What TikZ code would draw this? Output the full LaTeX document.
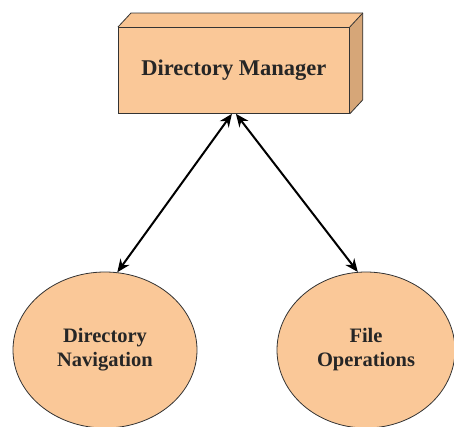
\documentclass[tikz,border=0pt]{standalone}
\usepackage{fontspec}
\setmainfont{Liberation Serif}
\usetikzlibrary{shapes.geometric,arrows.meta,calc}
\definecolor{peach}{RGB}{250,200,152}
\definecolor{peachtop}{RGB}{248,196,146}
\definecolor{peachside}{RGB}{214,166,120}
\tikzset{
  lbl/.style={font=\fontsize{22.5}{25}\selectfont\bfseries, align=center, text=black!85},
  blob/.style={ellipse, draw=black!80, line width=0.8pt, fill=peach, lbl,
    font=\fontsize{20.5}{24}\selectfont\bfseries,
    minimum width=184pt, minimum height=156pt, inner sep=0pt},
  face/.style={draw=black!80, line width=0.8pt, line join=round},
  link/.style={line width=2pt, {Stealth[length=13pt,width=11pt]}-{Stealth[length=13pt,width=11pt]}}
}
\begin{document}
\begin{tikzpicture}[x=1pt,y=-1pt]
  \useasboundingbox (0,0) rectangle (454,426);
  % cuboid: front face as a node, top and side faces from its corners
  \node[face, fill=peach, lbl, minimum width=231pt, minimum height=86pt, inner sep=0pt,
        anchor=north west] (dm) at (118,27) {Directory Manager};
  \fill[peachtop] (dm.north west) -- ++(13,-14) -- ($(dm.north east)+(13,-14)$) -- (dm.north east) -- cycle;
  \fill[peachside] (dm.north east) -- ++(13,-14) -- ($(dm.south east)+(13,-14)$) -- (dm.south east) -- cycle;
  \draw[face] (dm.north west) -- ++(13,-14) -- ($(dm.north east)+(13,-14)$) -- ($(dm.south east)+(13,-14)$) -- (dm.south east);
  \draw[face] (dm.north east) -- ++(13,-14);
  \draw[face] (dm.north west) rectangle (dm.south east);

  \node[blob] (nav) at (105,350) {Directory\\Navigation};
  \node[blob, minimum width=178pt] (ops) at (366,350) {File\\Operations};

  \coordinate (tl) at ($(dm.south)+(-2,0)$);
  \coordinate (tr) at ($(dm.south)+(2,0)$);
  \draw[link] (tl) -- (nav.81);
  \draw[link] (tr) -- (ops.96);
\end{tikzpicture}
\end{document}
